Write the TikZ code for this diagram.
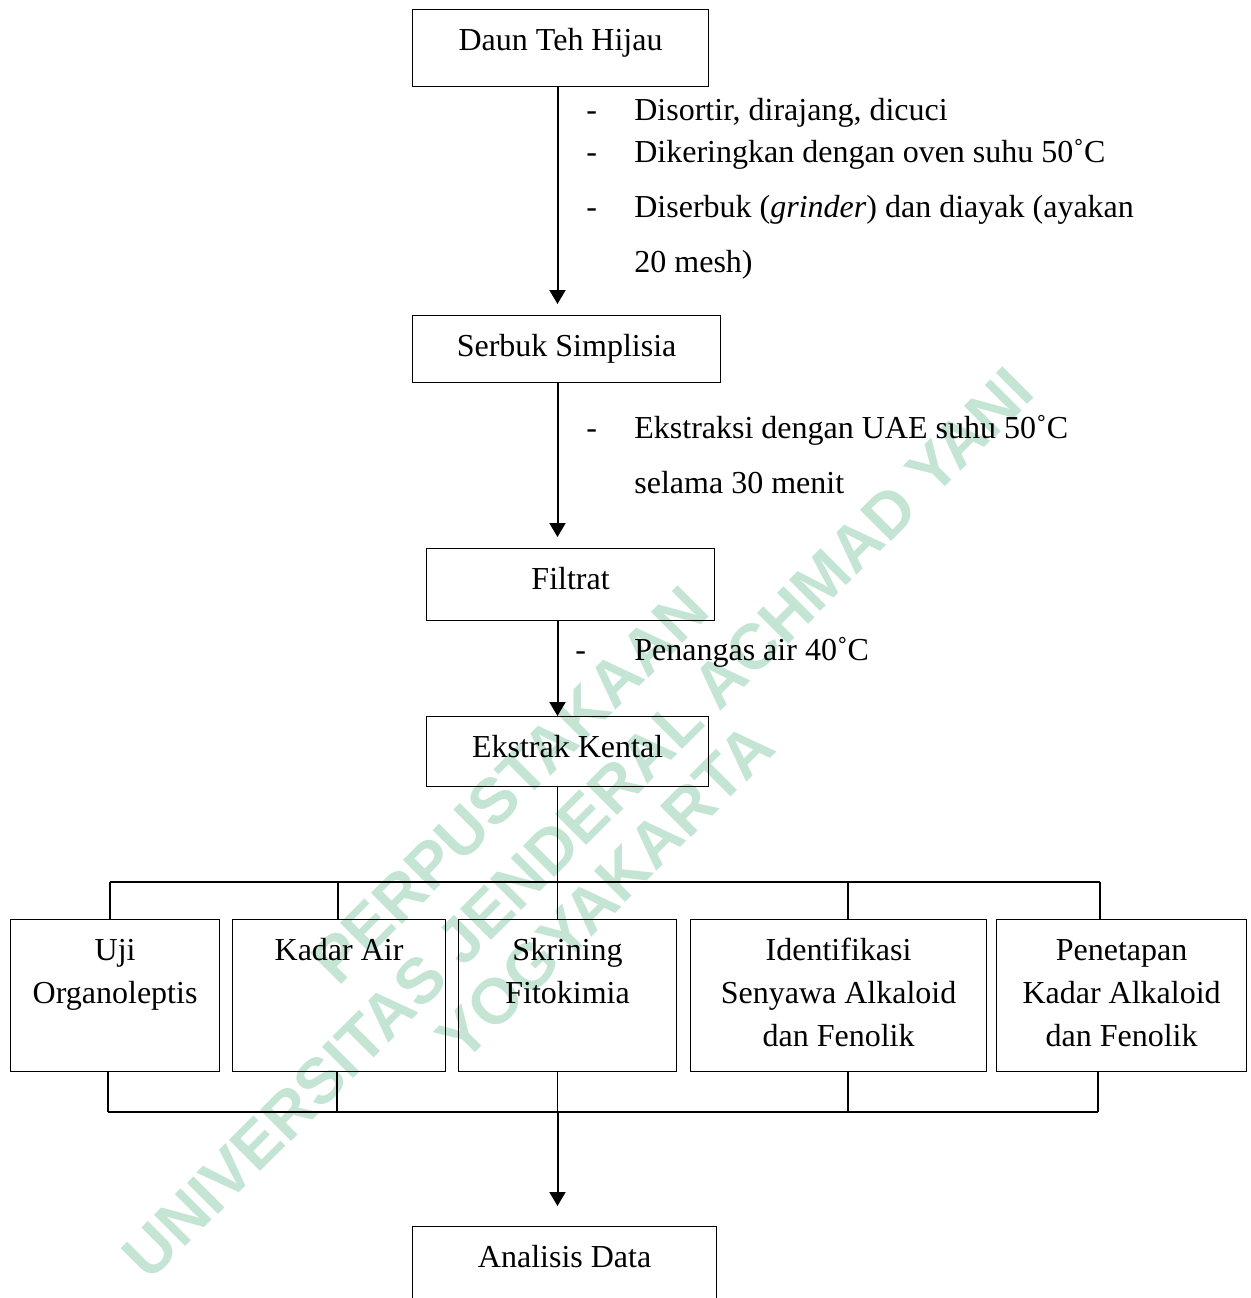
\documentclass[tikz,border=0pt]{standalone}
\usepackage{fontspec}
\setmainfont{Liberation Serif}
\newfontfamily\wmfont{Liberation Sans}
\usetikzlibrary{arrows.meta}
\definecolor{wmgreen}{RGB}{196,228,212}
%% box text: fixed size, first baseline 20.5pt below the top
\newcommand{\boxlines}[3]{\parbox[c][#2][t]{#1}{\centering\rule{0pt}{20.5pt}#3}}
\begin{document}
\begin{tikzpicture}[x=0.5pt, y=-0.5pt, font=\fontsize{16}{21.5}\selectfont,
    stepbox/.style={draw, line width=0.6pt, inner sep=0pt, anchor=north west},
    flow/.style={line width=1pt, -{Triangle[width=8pt,length=7pt]}},
    bus/.style={line width=0.8pt},
    note/.style={anchor=base west, inner sep=0pt},
    wm/.style={text=wmgreen, rotate=45, font=\wmfont\bfseries\fontsize{32}{32}\selectfont}]
    \useasboundingbox (0,0) rectangle (1250,1298);
    %% watermark
    \node[wm] (wm1) at (510,785) {PERPUSTAKAAN};
    \node[wm] (wm2) at (578,823) {UNIVERSITAS JENDERAL ACHMAD YANI};
    \node[wm] (wm3) at (605,892) {YOGYAKARTA};
    %% main column
    \node[stepbox] (daun) at (412,9) {\boxlines{148pt}{38.5pt}{Daun Teh Hijau}};
    \node[stepbox] (serbuk) at (412,315) {\boxlines{154pt}{33.5pt}{Serbuk Simplisia}};
    \node[stepbox] (filtrat) at (426,548) {\boxlines{144pt}{36pt}{Filtrat}};
    \node[stepbox] (kental) at (426,716) {\boxlines{141pt}{35pt}{Ekstrak Kental}};
    %% the five tests
    \node[stepbox] (uji) at (10,919) {\boxlines{104.5pt}{76pt}{Uji\\Organoleptis}};
    \node[stepbox] (kadar) at (232,919) {\boxlines{106.5pt}{76pt}{Kadar Air}};
    \node[stepbox] (skrining) at (458,919) {\boxlines{109pt}{76pt}{Skrining\\Fitokimia}};
    \node[stepbox] (identifikasi) at (690,919) {\boxlines{148pt}{76pt}{Identifikasi\\Senyawa Alkaloid\\dan Fenolik}};
    \node[stepbox] (penetapan) at (996,919) {\boxlines{125pt}{76pt}{Penetapan\\Kadar Alkaloid\\dan Fenolik}};
    \node[stepbox] (analisis) at (412,1226) {\boxlines{152pt}{70pt}{Analisis Data}};
    %% notes beside the arrows
    \node[note] (n1) at (586,120) {\makebox[24pt][l]{-}Disortir, dirajang, dicuci};
    \node[note] (n2) at (586,162) {\makebox[24pt][l]{-}Dikeringkan dengan oven suhu 50˚C};
    \node[note] (n3) at (586,217) {\makebox[24pt][l]{-}Diserbuk (\textit{grinder}) dan diayak (ayakan};
    \node[note] (n4) at (634,272) {20 mesh)};
    \node[note] (n5) at (586,438) {\makebox[24pt][l]{-}Ekstraksi dengan UAE suhu 50˚C};
    \node[note] (n6) at (634,493) {selama 30 menit};
    \node[note] (n7) at (575,660) {\makebox[29.5pt][l]{-}Penangas air 40˚C};
    %% arrows
    \coordinate (spine) at (557.5,0);
    \draw[flow, shorten >=5.5pt] (spine |- daun.south) -- (spine |- serbuk.north);
    \draw[flow, shorten >=5.5pt] (spine |- serbuk.south) -- (spine |- filtrat.north);
    \draw[flow] (spine |- filtrat.south) -- (spine |- kental.north);
    %% branching
    \coordinate (topL) at (110,882);
    \coordinate (topR) at (1100,882);
    \coordinate (botL) at (108,1112);
    \coordinate (botR) at (1098,1112);
    \draw[bus] (spine |- kental.south) -- (spine |- topL);
    \draw[bus] (topL) -- (topR);
    \draw[bus] (botL) -- (botR);
    \foreach \n/\a/\b in {uji/110/108, kadar/338/337, skrining/557.5/557.5, identifikasi/848/848, penetapan/1100/1098} {
        \coordinate (up) at (\a,0);
        \coordinate (dn) at (\b,0);
        \draw[bus] (up |- topL) -- (up |- \n.north);
        \draw[bus] (dn |- \n.south) -- (dn |- botL);
    }
    \draw[flow, shorten >=10pt] (spine |- botL) -- (spine |- analisis.north);
\end{tikzpicture}
\end{document}
